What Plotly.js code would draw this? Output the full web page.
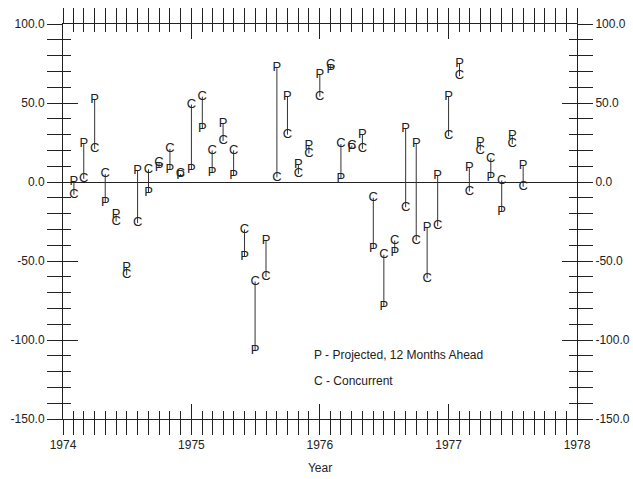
<!DOCTYPE html>
<html>
<head>
<meta charset="utf-8">
<script src="https://cdn.plot.ly/plotly-3.0.1.min.js"></script>
<style>html,body{margin:0;padding:0;background:#fff;}#chart{width:633px;height:479px;}</style>
</head>
<body>
<div id="chart"></div>
<script>
const months = [
  "1974-02-01","1974-03-01","1974-04-01","1974-05-01","1974-06-01","1974-07-01","1974-08-01","1974-09-01","1974-10-01","1974-11-01","1974-12-01",
  "1975-01-01","1975-02-01","1975-03-01","1975-04-01","1975-05-01","1975-06-01","1975-07-01","1975-08-01","1975-09-01","1975-10-01","1975-11-01","1975-12-01",
  "1976-01-01","1976-02-01","1976-03-01","1976-04-01","1976-05-01","1976-06-01","1976-07-01","1976-08-01","1976-09-01","1976-10-01","1976-11-01","1976-12-01",
  "1977-01-01","1977-02-01","1977-03-01","1977-04-01","1977-05-01","1977-06-01","1977-07-01","1977-08-01"
];
const projected = [0,24,52,-13,-21,-54,7,-7,9,8,4,8,34,6,37,4,-47,-107,-37,72,54,11,23,68,71,2,21,30,-42,-79,-45,34,24,-29,4,54,75,9,25,3,-19,29,10];
const concurrent = [-8,2,21,5,-25,-59,-26,8,12,21,5,49,54,20,26,20,-30,-63,-60,3,30,5,18,54,74,24,23,21,-10,-46,-37,-16,-37,-61,-28,29,67,-6,20,15,1,24,-3];
const yearTicks = ["1974","1975","1976","1977","1978"];
const yTickVals = [-150, -100, -50, 0, 50, 100];
const yTickText = ["-150.0", "-100.0", "-50.0", "0.0", "50.0", "100.0"];
const legendLines = ["P - Projected, 12 Months Ahead", "C - Concurrent"];

const segX = [], segY = [];
months.forEach((m, i) => { segX.push(m, m, null); segY.push(projected[i], concurrent[i], null); });

const ink = '#222';
const letterFont = {family: 'Liberation Sans, Arial, sans-serif', size: 13, color: ink};

const traces = [
  {x: segX, y: segY, mode: 'lines', line: {color: '#333', width: 1}, hoverinfo: 'skip', connectgaps: false},
  {x: months, y: projected, mode: 'text', text: months.map(() => 'P'), textposition: 'middle center', textfont: letterFont, cliponaxis: false},
  {x: months, y: concurrent, mode: 'text', text: months.map(() => 'C'), textposition: 'middle center', textfont: letterFont, cliponaxis: false},
  {x: [], y: [], xaxis: 'x2', yaxis: 'y', mode: 'lines'},
  {x: [], y: [], xaxis: 'x', yaxis: 'y2', mode: 'lines'},
  {x: [], y: [], xaxis: 'x', yaxis: 'y3', mode: 'lines'}
];

const xr = [yearTicks[0] + "-01-01", yearTicks[yearTicks.length - 1] + "-01-01"];
const yr = [yTickVals[0], yTickVals[yTickVals.length - 1]];
const yMinor = {tick0: 0, dtick: 10, ticks: 'outside', ticklen: 8, tickwidth: 1, tickcolor: ink, showgrid: false};

const layout = {
  width: 633, height: 479,
  margin: {l: 63, r: 56, t: 24, b: 60},
  paper_bgcolor: '#fff', plot_bgcolor: '#fff',
  showlegend: false,
  font: {family: 'Liberation Sans, Arial, sans-serif', size: 12, color: ink},
  xaxis: {
    type: 'date', range: xr, tickmode: 'linear', tick0: xr[0], dtick: 'M12', tickformat: '%Y',
    ticks: 'outside', ticklen: 15, tickwidth: 1, tickcolor: ink,
    showline: true, linecolor: ink, linewidth: 1, mirror: 'allticks',
    showgrid: false, zeroline: false,
    minor: {tick0: xr[0], dtick: 'M1', ticks: 'outside', ticklen: 8, tickwidth: 1, tickcolor: ink, showgrid: false},
    title: {text: 'Year', standoff: 12, font: {size: 12, color: ink}},
    tickfont: {size: 12, color: ink}
  },
  xaxis2: {
    type: 'date', overlaying: 'x', anchor: 'y', side: 'bottom', range: xr,
    tickmode: 'linear', tick0: xr[0], dtick: 'M12',
    ticks: 'inside', ticklen: 15, tickwidth: 1, tickcolor: ink, mirror: 'allticks',
    showticklabels: false, showline: false, showgrid: false, zeroline: false,
    minor: {tick0: xr[0], dtick: 'M1', ticks: 'inside', ticklen: 8, tickwidth: 1, tickcolor: ink, showgrid: false}
  },
  yaxis: {
    range: yr, tickmode: 'array', tickvals: yTickVals, ticktext: yTickText,
    ticks: 'outside', ticklen: 15, tickwidth: 1, tickcolor: ink,
    showline: true, linecolor: ink, linewidth: 1, mirror: 'allticks',
    showgrid: false, zeroline: true, zerolinecolor: ink, zerolinewidth: 1,
    minor: yMinor,
    tickfont: {size: 12, color: ink}
  },
  yaxis2: {
    overlaying: 'y', anchor: 'x', side: 'right', range: yr, tickmode: 'array', tickvals: yTickVals, ticktext: yTickText,
    ticks: 'outside', ticklen: 15, tickwidth: 1, tickcolor: ink, ticklabelstandoff: 0,
    showline: false, showgrid: false, zeroline: false,
    minor: yMinor,
    tickfont: {size: 12, color: ink}
  },
  yaxis3: {
    overlaying: 'y', anchor: 'x', side: 'left', range: yr, tickmode: 'array', tickvals: yTickVals,
    ticks: 'inside', ticklen: 15, tickwidth: 1, tickcolor: ink, mirror: 'allticks',
    showticklabels: false, showline: false, showgrid: false, zeroline: false,
    minor: {tick0: 0, dtick: 10, ticks: 'inside', ticklen: 8, tickwidth: 1, tickcolor: ink, showgrid: false}
  },
  annotations: [
    {text: legendLines[0], xref: 'paper', yref: 'paper', x: 0.484, y: 0.162, xanchor: 'left', yanchor: 'middle', showarrow: false, font: {size: 12, color: ink}},
    {text: legendLines[1], xref: 'paper', yref: 'paper', x: 0.484, y: 0.096, xanchor: 'left', yanchor: 'middle', showarrow: false, font: {size: 12, color: ink}}
  ]
};

Plotly.newPlot('chart', traces, layout, {staticPlot: true, displayModeBar: false});
</script>
</body>
</html>
